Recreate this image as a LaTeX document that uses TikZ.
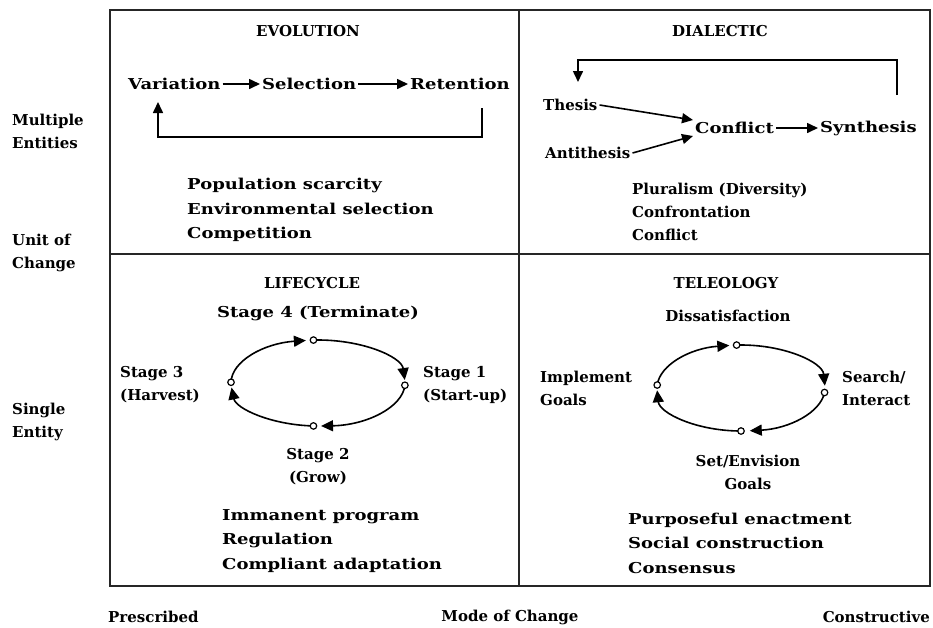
\documentclass[tikz,border=0pt]{standalone}
\usepackage{fontspec}
\setmainfont{DejaVu Serif}
\newfontfamily\widefont{DejaVu Serif}[FakeStretch=1.2]
\usetikzlibrary{arrows.meta,calc}

\begin{document}
\begin{tikzpicture}[x=1pt,y=-1pt,
  txt/.style={font=\bfseries\fontsize{15}{23}\selectfont, inner sep=2pt},
  wide/.style={font=\widefont\bfseries\fontsize{15}{24.5}\selectfont, inner sep=2pt},
  head/.style={txt},
  lst/.style={txt, align=left, anchor=west},
  wlst/.style={wide, align=left, anchor=west},
  frame/.style={line width=1.6pt, draw=black!85},
  arr/.style={line width=1.6pt, -{Triangle[length=11pt,width=10pt]}},
  cyc/.style={line width=1.6pt, -{Triangle[length=12pt,width=11pt]}},
  dot/.style={circle, draw, fill=white, line width=1.2pt, inner sep=0pt, minimum size=6.5pt}
]
\fill[white] (0,0) rectangle (933,627);
\useasboundingbox (0,0) rectangle (933,627);

% ---- frame of the 2x2 grid ----
\draw[frame] (110,10) rectangle (930,586);
\draw[frame] (110,254) -- (930,254);
\draw[frame] (519,10) -- (519,586);

% ---- axis labels ----
\node[lst] (multi)  at (10,131) {Multiple\\Entities};
\node[lst] (unit)   at (10,253) {Unit of\\Change};
\node[lst] (single) at (10,422) {Single\\Entity};
\node[txt, anchor=west] (pres) at (106,617) {Prescribed};
\node[txt] (mode) at (510,617) {Mode of Change};
\node[txt, anchor=east] (cons) at (932,617) {Constructive};

% ---- EVOLUTION ----
\node[head] (evo) at (308,31) {EVOLUTION};
\node[wide, anchor=west] (var) at (126,84) {Variation};
\node[wide, anchor=west] (sel) at (260,84) {Selection};
\node[wide, anchor=west] (ret) at (408,84) {Retention};
\draw[arr] (var) -- (sel);
\draw[arr] (sel) -- (ret);
\coordinate (evoFbA) at (482,108);
\coordinate (evoFbB) at (158,102);
\draw[arr] (evoFbA) -- ++(0,29) -| (evoFbB);
\node[wlst] (evoList) at (185,210) {Population scarcity\\Environmental selection\\Competition};

% ---- DIALECTIC ----
\node[head] (dia) at (720,31) {DIALECTIC};
\node[txt, anchor=west] (thesis) at (541,105) {Thesis};
\node[wide, anchor=west] (conflict) at (693,128) {Conflict};
\node[wide, anchor=west] (synth) at (818,128) {Synthesis};
\node[txt, anchor=west] (anti) at (543,153) {Antithesis};
\draw[arr] (thesis.east) -- (conflict.north west);
\draw[arr] (anti.east) -- (conflict.south west);
\draw[arr] (conflict) -- (synth);
\coordinate (diaFbA) at (897,95);
\coordinate (diaFbB) at (578,82);
\draw[arr] (diaFbA) -- ++(0,-35) -| (diaFbB);
\node[lst] (diaList) at (630,212) {Pluralism (Diversity)\\Confrontation\\Conflict};

% ---- LIFECYCLE ----
\node[head] (life) at (312,283) {LIFECYCLE};
\node[wide] (st4) at (318,313) {Stage 4 (Terminate)};
\node[lst] (st3) at (118,385) {Stage 3\\(Harvest)};
\node[lst] (st1) at (421,385) {Stage 1\\(Start-up)};
\node[txt, align=center] (st2) at (318,467) {Stage 2\\(Grow)};
\coordinate (lc) at (318,383);
\coordinate (lcT) at ($(lc)+(-93:87 and 43)$);
\coordinate (lcR) at ($(lc)+(3:87 and 43)$);
\coordinate (lcB) at ($(lc)+(93:87 and 43)$);
\coordinate (lcL) at ($(lc)+(181:87 and 43)$);
\draw[cyc] (lcT) arc[start angle=-93, end angle=-4,  x radius=87, y radius=43];
\draw[cyc] (lcR) arc[start angle=3,   end angle=88,  x radius=87, y radius=43];
\draw[cyc] (lcB) arc[start angle=93,  end angle=174, x radius=87, y radius=43];
\draw[cyc] (lcL) arc[start angle=181, end angle=262, x radius=87, y radius=43];
\foreach \p in {lcT,lcR,lcB,lcL} \node[dot] at (\p) {};
\node[wlst] (lifeList) at (220,541) {Immanent program\\Regulation\\Compliant adaptation};

% ---- TELEOLOGY ----
\node[head] (tel) at (726,283) {TELEOLOGY};
\node[txt] (dis) at (728,316) {Dissatisfaction};
\node[lst] (impl) at (538,388) {Implement\\Goals};
\node[lst] (search) at (840,388) {Search/\\Interact};
\node[txt, align=center] (setg) at (748,472) {Set/Envision\\Goals};
\coordinate (tc) at (741,388);
\coordinate (tcT) at ($(tc)+(-93:84 and 43)$);
\coordinate (tcR) at ($(tc)+(6:84 and 43)$);
\coordinate (tcB) at ($(tc)+(90:84 and 43)$);
\coordinate (tcL) at ($(tc)+(184:84 and 43)$);
\draw[cyc] (tcT) arc[start angle=-93, end angle=-3,  x radius=84, y radius=43];
\draw[cyc] (tcR) arc[start angle=6,   end angle=84,  x radius=84, y radius=43];
\draw[cyc] (tcB) arc[start angle=90,  end angle=177, x radius=84, y radius=43];
\draw[cyc] (tcL) arc[start angle=184, end angle=262, x radius=84, y radius=43];
\foreach \p in {tcT,tcR,tcB,tcL} \node[dot] at (\p) {};
\node[wlst] (telList) at (626,543) {Purposeful enactment\\Social construction\\Consensus};

\end{tikzpicture}
\end{document}
